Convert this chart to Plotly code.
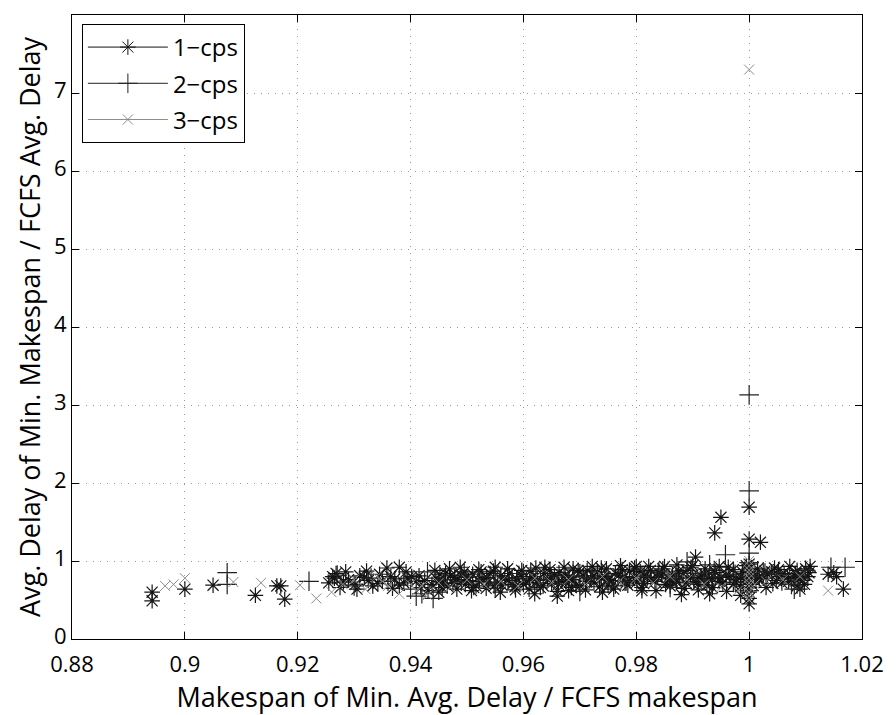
import plotly.graph_objects as go

x_ticks = [0.88, 0.9, 0.92, 0.94, 0.96, 0.98, 1.0, 1.02]
x_ticklabels = ["0.88", "0.9", "0.92", "0.94", "0.96", "0.98", "1", "1.02"]
y_ticks = [0, 1, 2, 3, 4, 5, 6, 7, 8]

series_names = ["1\u2212cps", "2\u2212cps", "3\u2212cps"]

s1_points = [
    (0.8942,0.60),(0.8942,0.49),(0.9000,0.64),(0.9050,0.69),(0.9125,0.56),(0.9163,0.68),(0.9170,0.68),(0.9177,0.51),
    (0.9255,0.72),(0.9262,0.80),(0.9275,0.66),(0.9290,0.76),(0.9302,0.70),(0.9318,0.79),(0.9333,0.68),(0.9350,0.74),
    (0.9358,0.91),(0.9372,0.77),(0.9388,0.72),(0.9402,0.80),(0.9418,0.66),(0.9425,0.75),(0.9431,0.62),(0.9445,0.78),
    (0.9458,0.72),(0.9471,0.81),(0.9484,0.76),(0.9497,0.70),(0.9510,0.83),(0.9522,0.74),(0.9535,0.79),(0.9548,0.68),
    (0.9560,0.81),(0.9573,0.75),(0.9586,0.63),(0.9598,0.80),(0.9611,0.77),(0.9624,0.72),(0.9636,0.84),(0.9649,0.78),
    (0.9662,0.70),(0.9674,0.82),(0.9687,0.76),(0.9700,0.86),(0.9712,0.74),(0.9725,0.81),(0.9738,0.78),(0.9750,0.69),
    (0.9763,0.84),(0.9776,0.79),(0.9788,0.87),(0.9801,0.73),(0.9814,0.82),(0.9826,0.77),(0.9839,0.85),(0.9852,0.70),
    (0.9864,0.83),(0.9877,0.78),(0.9890,0.88),(0.9902,0.74),(0.9915,0.81),(0.9928,0.77),(0.9940,0.85),(0.9953,0.72),
    (0.9966,0.80),(0.9978,0.76),(0.9991,0.84),(1.0000,0.90),(1.0000,0.66),(1.0000,0.52),(1.0010,0.82),(1.0025,0.78),
    (1.0040,0.86),(1.0055,0.80),(1.0070,0.74),(1.0085,0.88),(1.0092,0.82),(1.0100,0.90),(1.0106,0.85),
    (0.9268,0.84),(0.9281,0.73),(0.9310,0.81),(0.9325,0.75),(0.9342,0.71),(0.9365,0.80),(0.9380,0.69),(0.9395,0.78),
    (0.9410,0.74),(0.9438,0.70),(0.9452,0.83),(0.9465,0.68),(0.9478,0.79),(0.9490,0.82),(0.9503,0.75),(0.9516,0.68),
    (0.9528,0.77),(0.9541,0.84),(0.9554,0.72),(0.9567,0.78),(0.9580,0.70),(0.9592,0.84),(0.9605,0.73),(0.9617,0.80),
    (0.9630,0.66),(0.9643,0.76),(0.9655,0.82),(0.9668,0.74),(0.9681,0.79),(0.9693,0.69),(0.9706,0.81),(0.9719,0.77),
    (0.9731,0.86),(0.9744,0.80),(0.9757,0.75),(0.9769,0.82),(0.9782,0.72),(0.9795,0.80),(0.9807,0.86),(0.9820,0.79),
    (0.9833,0.74),(0.9845,0.82),(0.9858,0.77),(0.9871,0.73),(0.9883,0.84),(0.9896,0.79),(0.9909,0.70),(0.9921,0.83),
    (0.9934,0.78),(0.9947,0.74),(0.9959,0.82),(0.9972,0.70),(0.9985,0.79),(0.9997,0.74),(1.0003,0.84),(1.0018,0.77),
    (1.0032,0.83),(1.0048,0.75),(1.0062,0.84),(1.0078,0.79),(1.0085,0.68),(1.0090,0.64),
    (0.9443,0.88),(0.9456,0.66),(0.9469,0.90),(0.9482,0.64),(0.9495,0.86),(0.9508,0.62),(0.9521,0.89),(0.9534,0.65),
    (0.9547,0.87),(0.9559,0.60),(0.9572,0.90),(0.9585,0.67),(0.9597,0.88),(0.9610,0.64),(0.9622,0.91),(0.9635,0.68),
    (0.9647,0.89),(0.9660,0.61),(0.9672,0.92),(0.9685,0.66),(0.9697,0.88),(0.9710,0.63),(0.9722,0.93),(0.9735,0.67),
    (0.9747,0.90),(0.9760,0.64),(0.9772,0.94),(0.9785,0.69),(0.9797,0.91),(0.9810,0.66),(0.9822,0.93),(0.9835,0.62),
    (0.9847,0.90),(0.9860,0.68),(0.9872,0.95),(0.9885,0.65),(0.9897,0.92),(0.9910,0.63),(0.9922,0.90),(0.9935,0.66),
    (0.9947,0.93),(0.9960,0.61),(0.9972,0.89),(0.9985,0.67),(0.9995,0.94),(1.0000,0.78),(1.0000,0.72),(1.0005,0.70),
    (1.0015,0.90),(1.0030,0.66),(1.0045,0.91),(1.0058,0.72),(1.0072,0.93),(1.0088,0.77),(1.0098,0.70),(1.0108,0.93),
    (0.9450,0.74),(0.9462,0.84),(0.9475,0.71),(0.9488,0.92),(0.9500,0.79),(0.9512,0.66),(0.9525,0.86),(0.9538,0.73),
    (0.9550,0.92),(0.9562,0.69),(0.9575,0.84),(0.9588,0.77),(0.9600,0.70),(0.9613,0.87),(0.9625,0.75),(0.9638,0.92),
    (0.9650,0.71),(0.9663,0.85),(0.9675,0.73),(0.9688,0.90),(0.9700,0.68),(0.9713,0.88),(0.9725,0.72),(0.9738,0.91),
    (0.9750,0.76),(0.9763,0.68),(0.9775,0.89),(0.9788,0.75),(0.9800,0.93),(0.9813,0.71),(0.9825,0.88),(0.9838,0.79),
    (0.9850,0.93),(0.9863,0.74),(0.9875,0.87),(0.9888,0.72),(0.9900,0.94),(0.9913,0.77),(0.9925,0.69),(0.9938,0.88),
    (0.9950,0.79),(0.9963,0.92),(0.9975,0.73),(0.9988,0.86),(1.0000,0.96),(1.0000,0.60),(1.0012,0.74),(1.0028,0.87),
    (1.0042,0.71),(1.0052,0.89),(1.0068,0.80),(1.0082,0.84),(1.0095,0.75),(1.0104,0.80),
    (0.9265,0.78),(0.9285,0.86),(0.9305,0.64),(0.9322,0.87),(0.9345,0.83),(0.9368,0.65),(0.9392,0.86),(0.9415,0.81),
    (0.9450,0.60),(0.9620,0.58),(0.9680,0.62),(0.9740,0.60),(0.9810,0.62),(0.9880,0.57),(0.9930,0.58),(0.9985,0.56),
    (1.0000,0.45),(0.9660,0.55),
    (0.9939,1.36),(0.9950,1.56),(1.0000,1.69),(1.0000,1.28),(1.0020,1.24),(0.9905,1.05),(1.0140,0.83),(1.0150,0.85),
    (1.0155,0.80),(1.0167,0.64),(0.9380,0.92),
]

s2_points = [
    (0.9075,0.85),(0.9075,0.70),(0.9220,0.74),(0.9270,0.82),(0.9300,0.68),(0.9330,0.78),(0.9360,0.74),(0.9400,0.64),
    (0.9410,0.55),(0.9420,0.58),(0.9430,0.86),(0.9440,0.52),(0.9460,0.76),(0.9490,0.74),(0.9520,0.80),(0.9550,0.72),
    (0.9580,0.78),(0.9600,0.84),(0.9630,0.76),(0.9660,0.70),(0.9690,0.80),(0.9720,0.78),(0.9750,0.82),(0.9780,0.74),
    (0.9810,0.80),(0.9840,0.86),(0.9870,0.78),(0.9900,0.84),(0.9920,0.75),(0.9940,0.80),(0.9958,1.08),(0.9930,0.95),
    (0.9975,0.83),(1.0000,3.13),(1.0000,1.90),(1.0000,1.10),(1.0000,0.98),(1.0000,0.80),(1.0000,0.62),(1.0025,0.86),
    (1.0050,0.83),(1.0075,0.70),(1.0080,0.64),(1.0100,0.88),(1.0145,0.92),(1.0170,0.92),(0.9890,0.99),(0.9860,0.66),
    (0.9700,0.61),(0.9550,0.65),
]

s3_points = [
    (0.8965,0.68),(0.8980,0.70),(0.9000,0.78),(0.9086,0.73),(0.9135,0.72),(0.9204,0.69),(0.9233,0.52),(0.9260,0.60),
    (0.9280,0.70),(0.9300,0.76),(0.9320,0.64),(0.9340,0.80),(0.9360,0.68),(0.9380,0.58),(0.9400,0.70),(0.9410,0.62),
    (0.9430,0.56),(0.9450,0.72),(0.9470,0.66),(0.9500,0.76),(0.9530,0.70),(0.9560,0.74),(0.9590,0.68),(0.9620,0.78),
    (0.9650,0.72),(0.9680,0.76),(0.9710,0.70),(0.9740,0.80),(0.9770,0.74),(0.9800,0.78),(0.9830,0.72),(0.9860,0.80),
    (0.9890,0.76),(0.9920,0.70),(0.9950,0.66),(0.9980,0.62),(1.0000,7.30),(1.0000,1.00),(1.0000,0.94),(1.0000,0.88),
    (1.0000,0.84),(1.0000,0.78),(1.0000,0.72),(1.0000,0.68),(1.0000,0.60),(1.0000,0.55),(1.0000,0.50),(1.0010,0.70),
    (1.0030,0.74),(1.0060,0.76),(1.0090,0.80),(1.0140,0.62),(0.9420,0.68),(0.9350,0.74),
]

styles = [
    dict(symbol="asterisk-open", color="#141414", size=13, lw=1.2),
    dict(symbol="cross-thin-open", color="#222222", size=14, lw=1.2),
    dict(symbol="x-thin-open", color="#8c8c8c", size=10, lw=1),
]

FONT = "Open Sans"
fig = go.Figure()

for name, pts, st in zip(series_names, [s1_points, s2_points, s3_points], styles):
    xs = [p[0] for p in pts]
    ys = [p[1] for p in pts]
    fig.add_trace(go.Scatter(
        x=xs, y=ys, mode="markers", name=name, showlegend=False,
        marker=dict(symbol=st["symbol"], size=st["size"], color=st["color"],
                    line=dict(width=st["lw"], color=st["color"])),
    ))

for i, (name, st) in enumerate(zip(series_names, styles)):
    fig.add_trace(go.Scatter(
        x=[None], y=[None], mode="lines+markers", name=name, legendgroup=f"g{i}",
        line=dict(color=st["color"], width=1),
        marker=dict(symbol=st["symbol"], size=st["size"], color=st["color"],
                    line=dict(width=1, color=st["color"])),
    ))

axis_common = dict(
    showline=True, linecolor="black", linewidth=1, mirror="allticks",
    ticks="inside", ticklen=7, tickcolor="black",
    showgrid=True, gridcolor="#9a9a9a", griddash="1px,6px", gridwidth=1,
    zeroline=False, tickfont=dict(family=FONT, size=22, color="black"),
)

fig.update_layout(
    width=896, height=715,
    margin=dict(l=72, r=25, t=15, b=76),
    paper_bgcolor="white", plot_bgcolor="white",
    font=dict(family=FONT, color="black"),
    xaxis=dict(range=[0.88, 1.02], tickvals=x_ticks, ticktext=x_ticklabels,
               ticklabelstandoff=6,
               title=dict(text="Makespan of Min. Avg. Delay / FCFS makespan",
                          font=dict(family=FONT, size=27), standoff=6),
               **axis_common),
    yaxis=dict(range=[0, 8], tickvals=y_ticks, ticklabelshift=-3,
               title=dict(text="Avg. Delay of Min. Makespan / FCFS Avg. Delay",
                          font=dict(family=FONT, size=27), standoff=5),
               **axis_common),
    legend=dict(x=0.0125, y=0.9856, xanchor="left", yanchor="top",
                bgcolor="white", bordercolor="black", borderwidth=1,
                font=dict(family=FONT, size=24, color="black"),
                itemwidth=80, tracegroupgap=2),
)

fig.write_html("out.html")
